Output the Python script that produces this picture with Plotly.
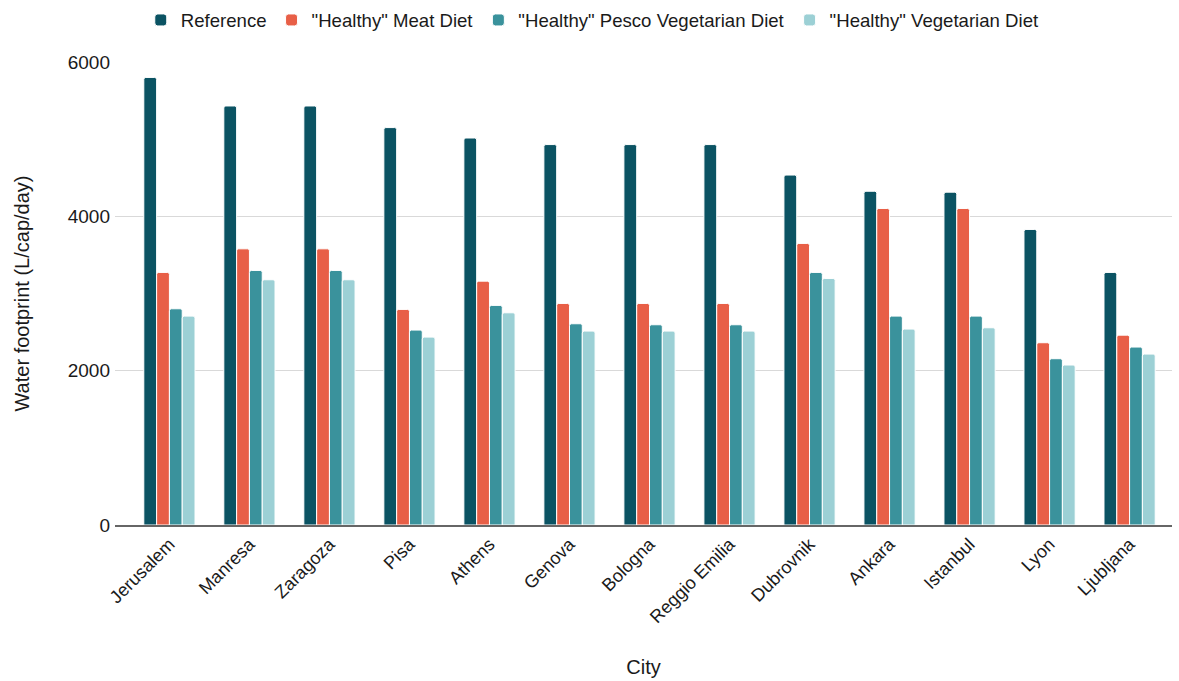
import plotly.graph_objects as go

cities = ["Jerusalem", "Manresa", "Zaragoza", "Pisa", "Athens", "Genova", "Bologna",
          "Reggio Emilia", "Dubrovnik", "Ankara", "Istanbul", "Lyon", "Ljubljana"]

reference = [5800, 5430, 5430, 5150, 5015, 4930, 4930, 4930, 4535, 4325, 4313, 3830, 3273]
meat_diet = [3273, 3579, 3579, 2794, 3160, 2871, 2871, 2871, 3649, 4102, 4102, 2362, 2460]
pesco_diet = [2802, 3299, 3299, 2526, 2846, 2608, 2595, 2595, 3273, 2707, 2707, 2155, 2306]
veg_diet = [2707, 3178, 3178, 2435, 2750, 2513, 2513, 2513, 3195, 2539, 2556, 2073, 2215]

series = [
    ("Reference", reference, "#0b5363"),
    ('"Healthy" Meat Diet', meat_diet, "#e85f47"),
    ('"Healthy" Pesco Vegetarian Diet', pesco_diet, "#3a929c"),
    ('"Healthy" Vegetarian Diet', veg_diet, "#9cd0d5"),
]

FONT = "Liberation Sans, Arial, sans-serif"
INK = "#1a1a1a"

fig = go.Figure()
for name, vals, color in series:
    fig.add_trace(go.Bar(
        name=name, x=cities, y=vals,
        marker=dict(color=color, line=dict(color="white", width=1), cornerradius=2),
    ))

fig.update_layout(
    width=1179, height=681,
    margin=dict(l=115, r=7, t=62, b=156),
    paper_bgcolor="white", plot_bgcolor="white",
    barmode="group", bargap=0.36, bargroupgap=0.0,
    font=dict(family=FONT, size=18, color=INK),
    legend=dict(orientation="h", x=0.452, xanchor="center", y=0.998, yanchor="top",
                yref="container", font=dict(size=18.6, color=INK),
                itemwidth=30, traceorder="normal"),
    showlegend=True,
)

fig.update_xaxes(
    range=[-0.68, 12.53], tickangle=-45, tickfont=dict(size=18, color=INK),
    title=dict(text="City", font=dict(size=20, color=INK), standoff=34),
    showline=True, linecolor="#666666", linewidth=1.5, showgrid=False, ticks="",
)
fig.update_yaxes(
    range=[0, 6000], tickvals=[0, 2000, 4000, 6000], tickfont=dict(size=19, color=INK),
    ticklabelstandoff=4,
    title=dict(text="Water footprint (L/cap/day)", font=dict(size=20, color=INK), standoff=32),
    showgrid=True, gridcolor="#d9d9d9", gridwidth=1, zeroline=False, ticks="",
)

fig.write_html("out.html")
